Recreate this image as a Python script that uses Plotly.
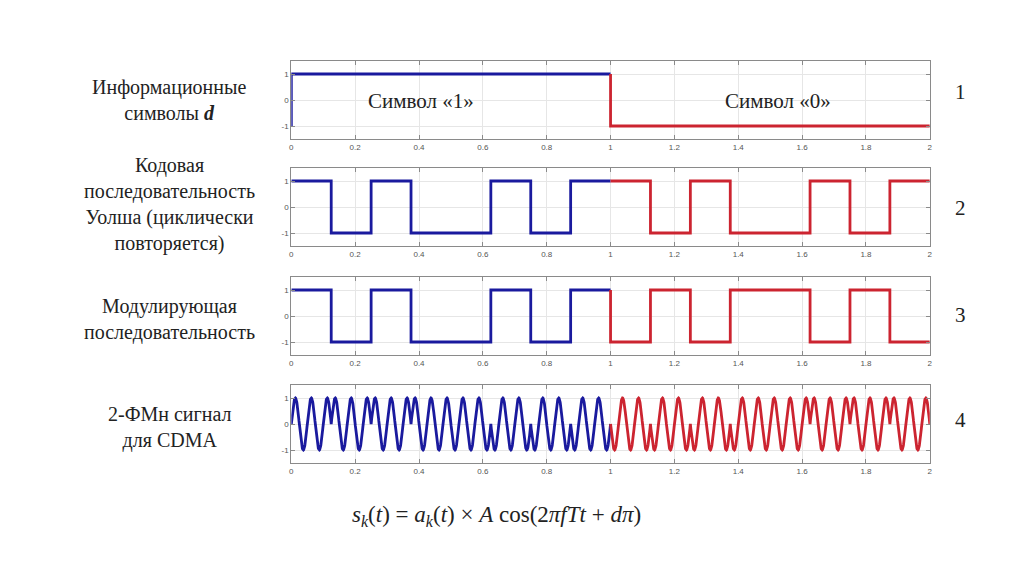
import numpy as np
import plotly.graph_objects as go

# ---- data ----
info_symbols = [1, -1]                       # information symbols d for t in [0,1) and [1,2)
walsh_code = [1, -1, 1, -1, -1, 1, -1, 1]    # Walsh chips (repeat every symbol)
carrier_cycles = 20                          # carrier periods per symbol
x_ticks = [0, 0.2, 0.4, 0.6, 0.8, 1, 1.2, 1.4, 1.6, 1.8, 2]
x_tick_text = ["0", "0.2", "0.4", "0.6", "0.8", "1", "1.2", "1.4", "1.6", "1.8", "2"]
y_ticks = [-1, 0, 1]
y_tick_text = ["-1", "0", "1"]
row_labels = [
    "Информационные<br>символы <b><i>d</i></b>",
    "Кодовая<br>последовательность<br>Уолша (циклически<br>повторяется)",
    "Модулирующая<br>последовательность",
    "2-ФМн сигнал<br>для CDMA",
]
row_numbers = ["1", "2", "3", "4"]
symbol_texts = ["Символ «1»", "Символ «0»"]

BLUE = "#1a1a9e"
RED = "#cc2430"
colors = [BLUE, RED]

n_chips = len(walsh_code)
chip = 1.0 / n_chips

fig = go.Figure()

def add(row, x, y, color):
    fig.add_trace(go.Scatter(x=x, y=y, mode="lines", line=dict(color=color, width=2.8),
                             line_shape="hv" if row < 4 else "linear",
                             xaxis=f"x{row}", yaxis=f"y{row}", showlegend=False,
                             hoverinfo="skip"))

prev = {1: -1, 2: None, 3: None}
for s, d in enumerate(info_symbols):
    t0 = float(s)
    # panel 1 : information symbol
    add(1, [t0, t0, t0 + 1], [prev[1], d, d], colors[s])
    prev[1] = d
    # panel 2 : Walsh code
    xs = [t0 + k * chip for k in range(n_chips + 1)]
    y2 = list(walsh_code) + [walsh_code[-1]]
    if prev[2] is not None:
        add(2, [t0] + xs, [prev[2]] + y2, colors[s])
    else:
        add(2, xs, y2, colors[s])
    prev[2] = walsh_code[-1]
    # panel 3 : modulating sequence
    m = [d * c for c in walsh_code]
    y3 = m + [m[-1]]
    if prev[3] is not None:
        add(3, [t0] + xs, [prev[3]] + y3, colors[s])
    else:
        add(3, xs, y3, colors[s])
    prev[3] = m[-1]
    # panel 4 : BPSK signal
    t = np.linspace(t0, t0 + 1, 2001)
    idx = np.minimum((t - t0) / chip, n_chips - 1e-9).astype(int)
    mod = np.array(m)[idx]
    sig = mod * np.sin(2 * np.pi * carrier_cycles * t)
    add(4, t, sig, colors[s])

# ---- layout ----  (page body adds an 8px offset)
W, H, OFF = 1024, 574, 8
def px(v):
    return (v - OFF) / W
def py(v):
    return 1 - (v - OFF) / H

x_dom = [px(290.7), px(932.3)]
panels_px = [(61, 139), (168, 246), (277, 355), (385, 463)]
layout = dict(width=W, height=H, margin=dict(l=0, r=0, t=0, b=0),
              paper_bgcolor="white", plot_bgcolor="white", showlegend=False)
axis_common = dict(showgrid=True, gridcolor="#e6e6e6", gridwidth=1,
                   zeroline=False, showline=True, linecolor="#8a8a8a", linewidth=1,
                   mirror="ticks", ticks="inside", ticklen=4, tickcolor="#8a8a8a",
                   tickfont=dict(family="Liberation Sans", size=8, color="#555"),
                   fixedrange=True)
for i, (top, bot) in enumerate(panels_px, start=1):
    layout[f"xaxis{i}"] = dict(domain=x_dom, anchor=f"y{i}", range=[0, 2],
                               tickvals=x_ticks, ticktext=x_tick_text, **axis_common)
    layout[f"yaxis{i}"] = dict(domain=[py(bot), py(top)], anchor=f"x{i}",
                               range=[-1.5, 1.5], tickvals=y_ticks, ticktext=y_tick_text,
                               **axis_common)
fig.update_layout(**layout)

serif = "Liberation Serif, Times New Roman, serif"
label_y = [100, 204, 319, 427]
for txt, yc in zip(row_labels, label_y):
    fig.add_annotation(x=px(168), y=py(yc), xref="paper", yref="paper",
                       text=txt, showarrow=False, xanchor="center", yanchor="middle",
                       align="center", font=dict(family=serif, size=20, color="#222"))
num_y = [92, 208, 315, 420]
for n, yc in zip(row_numbers, num_y):
    fig.add_annotation(x=px(963), y=py(yc), xref="paper", yref="paper",
                       text=n, showarrow=False, xanchor="center", yanchor="middle",
                       font=dict(family=serif, size=21, color="#222"))
sym_x = [421, 780]
for xc, txt in zip(sym_x, symbol_texts):
    fig.add_annotation(x=px(xc), y=py(101), xref="paper", yref="paper",
                       text=txt, showarrow=False, xanchor="center", yanchor="middle",
                       font=dict(family=serif, size=21, color="#222"))

formula = ("<i>s</i><sub><i>k</i></sub>(<i>t</i>) = <i>a</i><sub><i>k</i></sub>(<i>t</i>) × "
           "<i>A</i> cos(2<i>πfTt</i> + <i>dπ</i>)")
fig.add_annotation(x=px(497), y=py(516), xref="paper", yref="paper",
                   text=formula, showarrow=False, xanchor="center", yanchor="middle",
                   font=dict(family=serif, size=23, color="#222"))

fig.write_html("out.html")
